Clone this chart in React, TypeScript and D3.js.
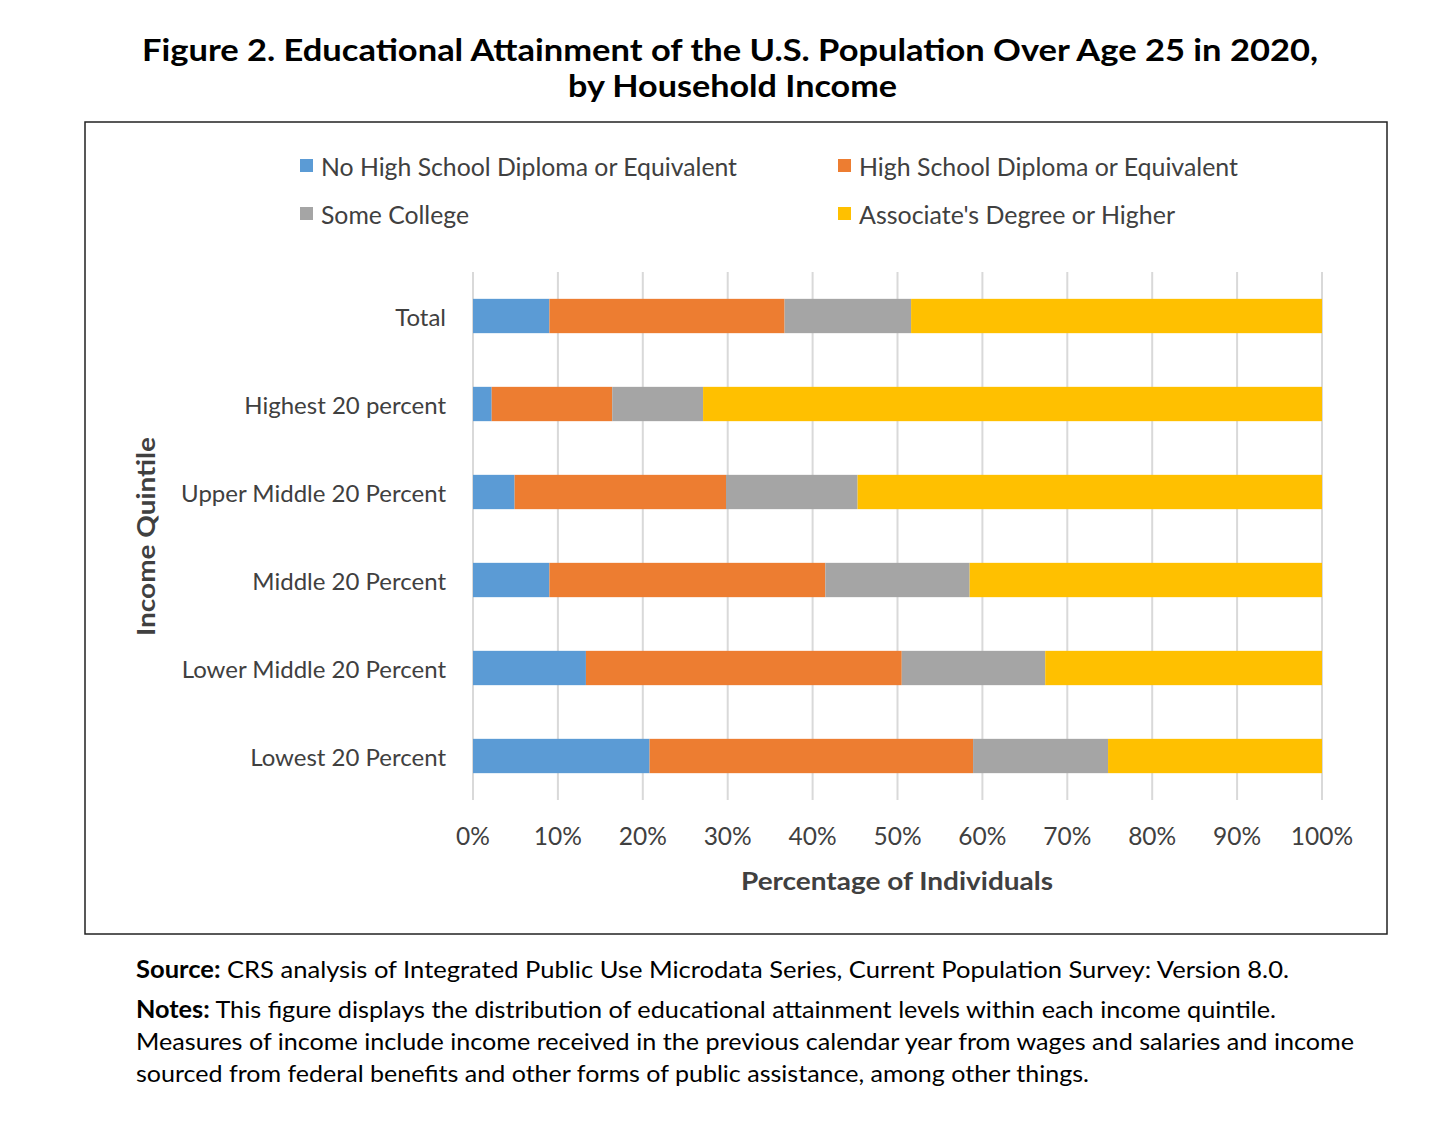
import React from "react";
import * as d3 from "d3";

const categories = [
  "Total",
  "Highest 20 percent",
  "Upper Middle 20 Percent",
  "Middle 20 Percent",
  "Lower Middle 20 Percent",
  "Lowest 20 Percent",
];
const seriesNames = [
  "No High School Diploma or Equivalent",
  "High School Diploma or Equivalent",
  "Some College",
  "Associate's Degree or Higher",
];
const noHighSchool = [9.0, 2.2, 4.9, 9.0, 13.3, 20.8];
const highSchool = [27.7, 14.2, 24.9, 32.5, 37.2, 38.1];
const someCollege = [14.9, 10.7, 15.5, 17.0, 16.9, 15.9];
const associatePlus = [48.4, 72.9, 54.7, 41.5, 32.6, 25.2];
const xTicks = [0, 10, 20, 30, 40, 50, 60, 70, 80, 90, 100];
const colors = ["#5b9bd5", "#ed7d31", "#a5a5a5", "#ffc000"];

const W = 1446;
const H = 1125;
const FONT = "Lato, 'Open Sans', sans-serif";

export default function App() {
  const x = d3.scaleLinear().domain([0, 100]).range([473, 1322]);
  const y = d3
    .scaleBand<string>()
    .domain(categories)
    .range([272, 800])
    .paddingInner(0.61)
    .paddingOuter(0.305);

  const rows = categories.map((c, i) => {
    const o: any = { cat: c };
    o.s0 = noHighSchool[i];
    o.s1 = highSchool[i];
    o.s2 = someCollege[i];
    o.s3 = associatePlus[i];
    return o;
  });
  const stack = d3.stack<any>().keys(["s0", "s1", "s2", "s3"]);
  const layers = stack(rows);

  const legendItems = [
    { name: seriesNames[0], x: 300, y: 166, c: colors[0], len: 416 },
    { name: seriesNames[1], x: 838, y: 166, c: colors[1], len: 379 },
    { name: seriesNames[2], x: 300, y: 214, c: colors[2], len: 148 },
    { name: seriesNames[3], x: 838, y: 214, c: colors[3], len: 316 },
  ];

  return (
    <svg
      width={W}
      height={H}
      style={{ position: "absolute", left: 0, top: 0, background: "#fff" }}
    >
      <rect x={0} y={0} width={W} height={H} fill="#fff" />
      <text
        x={142}
        y={61}
        fontFamily={FONT}
        fontWeight="bold"
        fontSize={31}
        fill="#000"
        textLength={1176}
        lengthAdjust="spacingAndGlyphs"
      >
        Figure 2. Educational Attainment of the U.S. Population Over Age 25 in 2020,
      </text>
      <text
        x={568}
        y={97}
        fontFamily={FONT}
        fontWeight="bold"
        fontSize={31}
        fill="#000"
        textLength={329}
        lengthAdjust="spacingAndGlyphs"
      >
        by Household Income
      </text>

      <rect x={85} y={122} width={1302} height={812} fill="none" stroke="#222" strokeWidth={1.5} />

      {legendItems.map((l) => (
        <g key={l.name}>
          <rect x={l.x} y={l.y - 7} width={13} height={13} fill={l.c} />
          <text
            x={l.x + 21}
            y={l.y}
            dominantBaseline="central"
            fontFamily={FONT}
            fontSize={24.5}
            fill="#404040"
            textLength={l.len}
            lengthAdjust="spacingAndGlyphs"
          >
            {l.name}
          </text>
        </g>
      ))}

      {xTicks.map((t) => (
        <line
          key={"g" + t}
          x1={x(t)}
          x2={x(t)}
          y1={272}
          y2={800}
          stroke="#d9d9d9"
          strokeWidth={2}
        />
      ))}

      {layers.map((layer, li) =>
        layer.map((d, i) => (
          <rect
            key={li + "-" + i}
            x={x(d[0])}
            y={y(categories[i])}
            width={x(d[1]) - x(d[0])}
            height={y.bandwidth()}
            fill={colors[li]}
          />
        ))
      )}

      {categories.map((c) => (
        <text
          key={c}
          x={446}
          y={(y(c) as number) + y.bandwidth() / 2}
          textAnchor="end"
          dominantBaseline="central"
          fontFamily={FONT}
          fontSize={24}
          fill="#404040"
        >
          {c}
        </text>
      ))}

      {xTicks.map((t) => (
        <text
          key={"t" + t}
          x={x(t)}
          y={835}
          textAnchor="middle"
          dominantBaseline="central"
          fontFamily={FONT}
          fontSize={24.5}
          fill="#404040"
        >
          {t + "%"}
        </text>
      ))}

      <text
        x={741}
        y={880}
        dominantBaseline="central"
        fontFamily={FONT}
        fontWeight="bold"
        fontSize={25}
        fill="#404040"
        textLength={312}
        lengthAdjust="spacingAndGlyphs"
      >
        Percentage of Individuals
      </text>
      <text
        transform="translate(145,636) rotate(-90)"
        dominantBaseline="central"
        fontFamily={FONT}
        fontWeight="bold"
        fontSize={25}
        fill="#404040"
        textLength={199}
        lengthAdjust="spacingAndGlyphs"
      >
        Income Quintile
      </text>

      <text x={136} y={978} fontFamily={FONT} fontSize={24} fill="#000" textLength={1153} lengthAdjust="spacingAndGlyphs">
        <tspan fontWeight="bold">Source:</tspan> CRS analysis of Integrated Public Use Microdata Series, Current Population Survey: Version 8.0.
      </text>
      <text x={136} y={1018} fontFamily={FONT} fontSize={24} fill="#000" textLength={1140} lengthAdjust="spacingAndGlyphs">
        <tspan fontWeight="bold">Notes:</tspan> This figure displays the distribution of educational attainment levels within each income quintile.
      </text>
      <text x={136} y={1050} fontFamily={FONT} fontSize={24} fill="#000" textLength={1218} lengthAdjust="spacingAndGlyphs">
        Measures of income include income received in the previous calendar year from wages and salaries and income
      </text>
      <text x={136} y={1082} fontFamily={FONT} fontSize={24} fill="#000" textLength={953} lengthAdjust="spacingAndGlyphs">
        sourced from federal benefits and other forms of public assistance, among other things.
      </text>
    </svg>
  );
}
